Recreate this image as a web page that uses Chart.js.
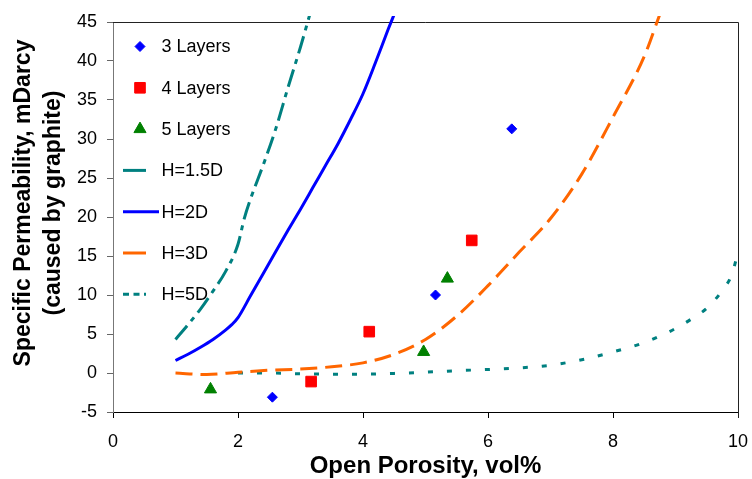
<!DOCTYPE html>
<html>
<head>
<meta charset="utf-8">
<title>Specific Permeability vs Open Porosity</title>
<script src="https://cdn.jsdelivr.net/npm/chart.js@4.4.0/dist/chart.umd.min.js"></script>
<style>
    html, body { margin: 0; padding: 0; background: #fff; }
    #wrap { width: 752px; height: 479px; }
</style>
</head>
<body>
<div id="wrap"><canvas id="chart" width="752" height="479"></canvas></div>
<script>
// ─── Measured samples ─────────────────────────────────────────────
const layers3X = [2.55, 5.16, 6.38];
const layers3Y = [-3.1, 10.0, 31.3];
const layers4X = [3.17, 4.10, 5.74];
const layers4Y = [-1.1, 5.3, 17.0];
const layers5X = [1.56, 4.97, 5.35];
const layers5Y = [-2.1, 2.7, 12.1];

// ─── Model curves (H = channel height in diameters) ───────────────
const h15X = [1.0, 1.2, 1.4, 1.6, 1.8, 2.0, 2.1, 2.2, 2.4, 2.6, 2.8, 3.0, 3.15];
const h15Y = [4.3, 6.2, 8.2, 10.5, 13.0, 16.5, 19.8, 22.3, 26.6, 31.2, 36.6, 41.8, 46.0];
const h2X = [1.0, 1.2, 1.4, 1.6, 1.8, 1.9, 2.0, 2.2, 2.4, 2.6, 2.8, 3.0, 3.2, 3.4, 3.6, 3.8, 4.0, 4.2, 4.4, 4.5];
const h2Y = [1.6, 2.4, 3.3, 4.3, 5.5, 6.2, 7.1, 9.9, 12.7, 15.5, 18.3, 21.0, 23.8, 26.6, 29.4, 32.5, 35.8, 39.8, 44.0, 46.0];
const h3X = [1.0, 1.5, 2.0, 2.5, 3.0, 3.5, 4.0, 4.5, 5.0, 5.5, 6.0, 6.5, 7.0, 7.5, 8.0, 8.5, 8.75];
const h3Y = [0.0, -0.2, 0.1, 0.35, 0.5, 0.8, 1.3, 2.4, 4.3, 7.3, 11.2, 15.5, 19.8, 25.5, 32.8, 40.6, 46.0];
const h5X = [2.0, 2.5, 3.0, 3.5, 4.0, 4.5, 5.0, 5.5, 6.0, 6.5, 7.0, 7.5, 8.0, 8.5, 9.0, 9.25, 9.5, 9.75, 9.9, 10.0, 10.08];
const h5Y = [0.0, 0.0, -0.1, -0.15, -0.15, -0.05, 0.1, 0.3, 0.45, 0.65, 1.0, 1.7, 2.7, 3.9, 5.7, 6.9, 8.3, 10.6, 12.6, 15.5, 18.0];

const seriesLabels = ['3 Layers', '4 Layers', '5 Layers', 'H=1.5D', 'H=2D', 'H=3D', 'H=5D'];
const xTicks = { min: 0, max: 10, step: 2 };
const yTicks = { min: -5, max: 45, step: 5 };

const FONT = '"Liberation Sans", Arial, Helvetica, sans-serif';
const TEAL = '#008080';

function points(xs, ys) {
    return xs.map((x, i) => ({ x, y: ys[i] }));
}

function markerSet(label, xs, ys, style, color, radius) {
    return {
        label,
        data: points(xs, ys),
        showLine: false,
        pointStyle: style,
        pointRadius: radius,
        pointHoverRadius: radius,
        backgroundColor: color,
        borderColor: color,
        pointBorderWidth: 1,
    };
}

function curveSet(label, xs, ys, color, dash, legendDash, legendLen, clip) {
    return {
        label,
        data: points(xs, ys),
        showLine: true,
        pointRadius: 0,
        pointHoverRadius: 0,
        borderColor: color,
        backgroundColor: color,
        borderWidth: 3,
        borderDash: dash,
        cubicInterpolationMode: 'monotone',
        clip,
        legendDash,
        legendLen,
    };
}

const datasets = [
    markerSet(seriesLabels[0], layers3X, layers3Y, 'rectRot', '#0000ff', 5),
    markerSet(seriesLabels[1], layers4X, layers4Y, 'rect', '#ff0000', 7.5),
    markerSet(seriesLabels[2], layers5X, layers5Y, 'triangle', '#008000', 7),
    curveSet(seriesLabels[3], h15X, h15Y, TEAL, [18, 6, 5, 6], [], 23, { left: 0, top: 6, right: 0, bottom: 0 }),
    curveSet(seriesLabels[4], h2X, h2Y, '#0000ff', [], [], 36, { left: 0, top: 6, right: 0, bottom: 0 }),
    curveSet(seriesLabels[5], h3X, h3Y, '#ff6600', [17, 8], [], 23, { left: 0, top: 6, right: 0, bottom: 0 }),
    curveSet(seriesLabels[6], h5X, h5Y, TEAL, [5, 14], [6, 4.5], 23, { left: 0, top: 0, right: 8, bottom: 0 }),
];

// ─── Plugins ──────────────────────────────────────────────────────
// legend sits inside the plot, one row per series
const insideLegend = {
    id: 'insideLegend',
    afterDatasetsDraw(chart) {
        const { ctx, chartArea } = chart;
        const rowGap = 41.3;
        const firstRow = chartArea.top + 24.5;
        ctx.save();
        ctx.font = '18px ' + FONT;
        ctx.textBaseline = 'middle';
        ctx.textAlign = 'left';
        chart.data.datasets.forEach((ds, i) => {
            const y = firstRow + i * rowGap;
            ctx.fillStyle = ds.backgroundColor;
            ctx.strokeStyle = ds.borderColor;
            if (ds.showLine) {
                ctx.save();
                ctx.lineWidth = ds.borderWidth;
                ctx.setLineDash(ds.legendDash);
                ctx.beginPath();
                ctx.moveTo(chartArea.left + 10, y);
                ctx.lineTo(chartArea.left + 10 + ds.legendLen, y);
                ctx.stroke();
                ctx.restore();
            } else {
                Chart.helpers.drawPoint(ctx, {
                    pointStyle: ds.pointStyle,
                    radius: ds.pointRadius,
                    borderWidth: ds.pointBorderWidth,
                }, chartArea.left + 27, y);
            }
            ctx.fillStyle = '#000';
            ctx.fillText(ds.label, chartArea.left + 48.5, y + 1);
        });
        ctx.restore();
    },
};

// top and right edges of the plot frame
const plotFrame = {
    id: 'plotFrame',
    beforeDatasetsDraw(chart) {
        const { ctx, chartArea } = chart;
        ctx.save();
        ctx.strokeStyle = '#222';
        ctx.lineWidth = 1;
        ctx.beginPath();
        ctx.moveTo(chartArea.left, chartArea.top + 0.5);
        ctx.lineTo(chartArea.right + 0.5, chartArea.top + 0.5);
        ctx.lineTo(chartArea.right + 0.5, chartArea.bottom + 6);
        ctx.stroke();
        ctx.restore();
    },
};

// two-line vertical axis title
const yAxisTitle = {
    id: 'yAxisTitle',
    afterDraw(chart) {
        const { ctx, chartArea } = chart;
        const cy = (chartArea.top + chartArea.bottom) / 2 - 14;
        ctx.save();
        ctx.translate(0, cy);
        ctx.rotate(-Math.PI / 2);
        ctx.font = 'bold 23px ' + FONT;
        ctx.fillStyle = '#000';
        ctx.textAlign = 'center';
        ctx.textBaseline = 'middle';
        ctx.fillText('Specific Permeability, mDarcy', 0, 24);
        ctx.fillText('(caused by graphite)', 0, 54);
        ctx.restore();
    },
};

// ─── Chart ────────────────────────────────────────────────────────
new Chart(document.getElementById('chart'), {
    type: 'scatter',
    data: { datasets },
    plugins: [plotFrame, insideLegend, yAxisTitle],
    options: {
        responsive: false,
        animation: false,
        events: [],
        layout: { padding: { top: 22, right: 14, left: 0, bottom: 0 } },
        plugins: {
            legend: { display: false },
            tooltip: { enabled: false },
        },
        scales: {
            x: {
                type: 'linear',
                min: xTicks.min,
                max: xTicks.max,
                afterFit(scale) {
                    scale.height = 67;
                    scale.paddingLeft = 0;
                    scale.paddingRight = 0;
                },
                ticks: {
                    stepSize: xTicks.step,
                    color: '#000',
                    padding: 13,
                    maxRotation: 0,
                    font: { family: FONT, size: 18 },
                },
                grid: { drawOnChartArea: false, tickLength: 6, color: '#000' },
                border: { color: '#000', width: 1 },
                title: {
                    display: true,
                    text: 'Open Porosity, vol%',
                    color: '#000',
                    font: { family: FONT, size: 24, weight: 'bold', lineHeight: 1 },
                    padding: { top: 0, bottom: 1 },
                },
            },
            y: {
                type: 'linear',
                min: yTicks.min,
                max: yTicks.max,
                afterFit(scale) {
                    scale.width = 113;
                    scale.paddingTop = 0;
                    scale.paddingBottom = 0;
                },
                ticks: {
                    stepSize: yTicks.step,
                    color: '#000',
                    padding: 10,
                    font: { family: FONT, size: 18 },
                },
                grid: { drawOnChartArea: false, tickLength: 6, color: '#666' },
                border: { color: '#777', width: 1 },
            },
        },
    },
});
</script>
</body>
</html>
